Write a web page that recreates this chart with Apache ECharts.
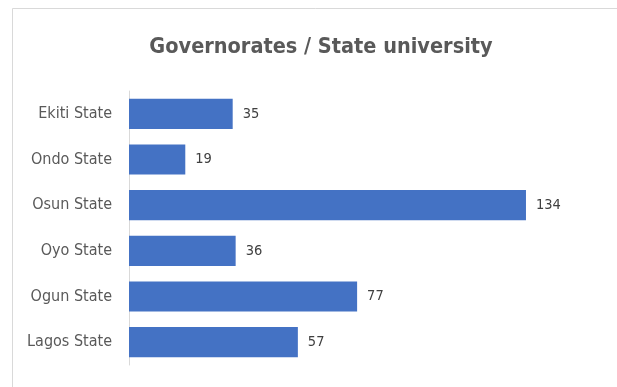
<!DOCTYPE html>
<html>
<head>
<meta charset="utf-8">
<script src="https://cdn.jsdelivr.net/npm/echarts@6/dist/echarts.min.js"></script>
<style>html,body{margin:0;padding:0;background:#fff;}#c{width:617px;height:387px;}</style>
</head>
<body>
<div id="c"></div>
<script>
const categories = ["Ekiti State", "Ondo State", "Osun State", "Oyo State", "Ogun State", "Lagos State"];
const values = [35, 19, 134, 36, 77, 57];
const titleText = "Governorates / State university";

const FONT = "'DejaVu Sans Condensed', sans-serif";
const chart = echarts.init(document.getElementById('c'), null, {renderer: 'canvas'});
chart.setOption({
  backgroundColor: '#ffffff',
  animation: false,
  title: {
    text: titleText,
    left: 316,
    textAlign: 'center',
    top: 31,
    textStyle: {fontFamily: FONT, fontSize: 21.5, fontWeight: 'bold', color: '#595959'}
  },
  graphic: [{
    type: 'rect',
    shape: {x: 12.5, y: 8.5, width: 800, height: 600},
    style: {fill: 'none', stroke: '#d9d9d9', lineWidth: 1},
    silent: true
  }],
  grid: {left: 129, right: 14, top: 91, height: 274},
  xAxis: {
    type: 'value', min: 0, max: 160, show: false
  },
  yAxis: {
    type: 'category',
    data: categories,
    inverse: true,
    axisLine: {show: true, lineStyle: {color: '#d9d9d9', width: 1}},
    axisTick: {show: false},
    axisLabel: {margin: 17, fontFamily: FONT, fontSize: 16, color: '#595959'}
  },
  series: [{
    type: 'bar',
    data: values,
    barCategoryGap: '34%',
    itemStyle: {color: '#4472C4'},
    label: {
      show: true, position: 'right', distance: 10,
      fontFamily: FONT, fontSize: 14.5, color: '#404040'
    }
  }]
});
</script>
</body>
</html>
